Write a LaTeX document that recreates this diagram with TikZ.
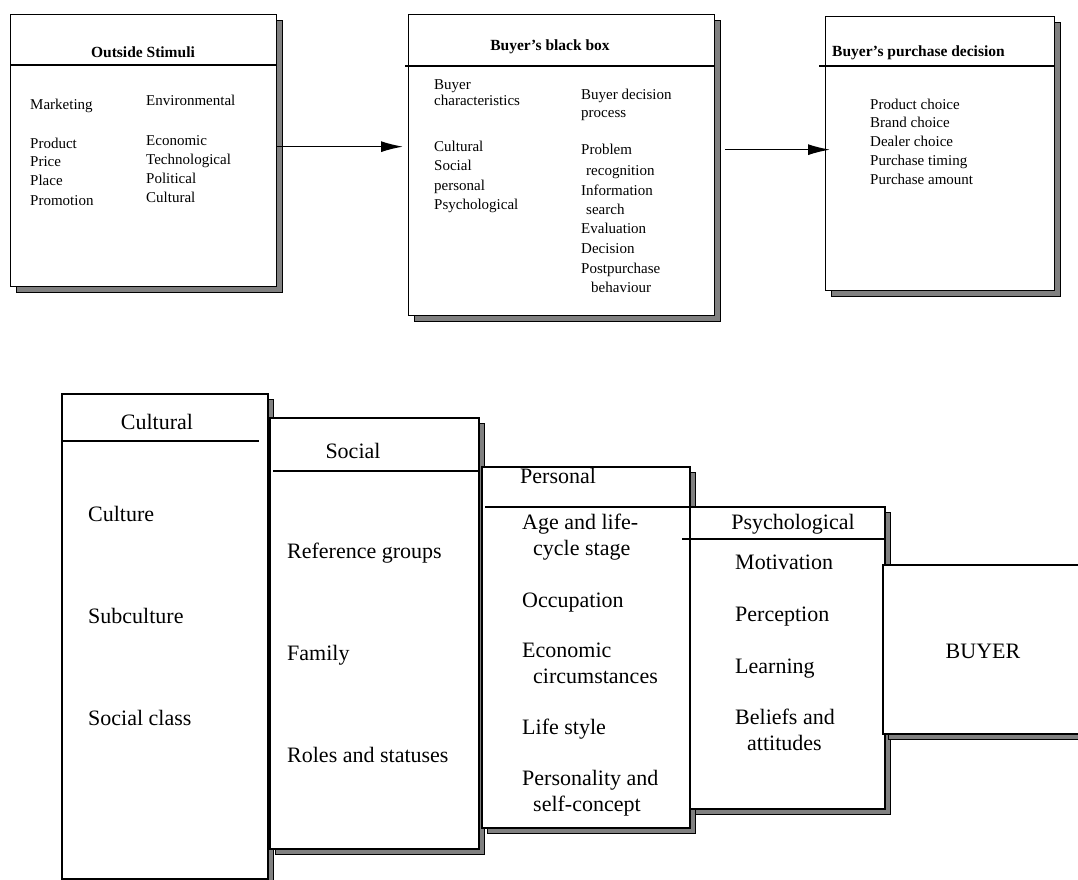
\documentclass[tikz,border=0pt]{standalone}
\usepackage{fontspec}
\setmainfont{Liberation Serif}
\usetikzlibrary{arrows.meta,shadows}
\begin{document}
\begin{tikzpicture}[x=1pt,y=-1pt,
  shd/.style={drop shadow={shadow xshift=6pt,shadow yshift=-6pt,fill=black!50,draw=black,line width=0.6pt,opacity=1}},
  topbox/.style={draw=black,line width=1.3pt,fill=white,inner sep=0pt,anchor=north west,shd},
  botbox/.style={draw=black,line width=1.5pt,fill=white,inner sep=0pt,anchor=north west,shd},
  hdr/.style={line width=1.3pt},
  small/.style={font=\fontsize{15}{18}\selectfont,inner sep=0pt,text height=0.68em,text depth=0.22em,anchor=west},
  smallb/.style={font=\fontsize{15.5}{18}\selectfont\bfseries,inner sep=0pt,text height=0.68em,text depth=0.22em},
  big/.style={font=\fontsize{22}{26}\selectfont,inner sep=0pt,text height=0.68em,text depth=0.22em,anchor=west},
  bigc/.style={font=\fontsize{22}{26}\selectfont,inner sep=0pt,text height=0.68em,text depth=0.22em},
  arr/.style={line width=1.3pt,-{Latex[length=22pt,width=11pt]}},
]
\useasboundingbox (0,0) rectangle (1078,880);
\clip (0,0) rectangle (1078,880);

% ---------------- top row ----------------
\node[topbox,minimum width=266pt,minimum height=272pt] (b1) at (10,14) {};
\draw[hdr] ([yshift=-51pt]b1.north west) -- ([yshift=-51pt]b1.north east);
\node[smallb] (t1) at (143,55) {Outside Stimuli};
\node[small] (mkt) at (30,107) {Marketing};
\node[small] (env) at (146,103) {Environmental};
\foreach \t/\y [count=\i] in {Product/146,Price/164,Place/183,Promotion/203}
  \node[small] (mk\i) at (30,\y) {\t};
\foreach \t/\y [count=\i] in {Economic/143,Technological/162,Political/181,Cultural/200}
  \node[small] (en\i) at (146,\y) {\t};

\node[topbox,minimum width=306pt,minimum height=301pt] (b2) at (408,14) {};
\draw[hdr] ([shift={(-3pt,-52pt)}]b2.north west) -- ([yshift=-52pt]b2.north east);
\node[smallb] (t2) at (550,48) {Buyer's black box};
\foreach \t/\y [count=\i] in {Buyer/87,characteristics/103,Cultural/149,Social/168,personal/188,Psychological/207}
  \node[small] (bc\i) at (434,\y) {\t};
\foreach \t/\x/\y [count=\i] in {Buyer decision/581/97,process/581/115,Problem/581/152,recognition/586/173,Information/581/193,search/586/212,Evaluation/581/231,Decision/581/251,Postpurchase/581/271,behaviour/591/290}
  \node[small] (bd\i) at (\x,\y) {\t};

\node[topbox,minimum width=229pt,minimum height=274pt] (b3) at (825,16) {};
\draw[hdr] ([shift={(-6pt,-50pt)}]b3.north west) -- ([yshift=-50pt]b3.north east);
\node[smallb,anchor=west] (t3) at (832,54) {Buyer's purchase decision};
\foreach \t/\y [count=\i] in {Product choice/107,Brand choice/125,Dealer choice/144,Purchase timing/163,Purchase amount/182}
  \node[small] (pd\i) at (870,\y) {\t};

\draw[arr,shorten >=5pt] ([yshift=4pt]b1.east) -- ([yshift=4pt]b1.east -| b2.west);
\draw[arr,shorten <=10pt,shorten >=-5pt] ([yshift=15.5pt]b2.east) -- ([yshift=15.5pt]b2.east -| b3.west);

% ---------------- bottom row ----------------
\node[botbox,minimum width=206pt,minimum height=485pt] (cu) at (61,393) {};
\draw[hdr] ([yshift=-48pt]cu.north west) -- ++(198pt,0);
\node[bigc] (cut) at (157,427) {Cultural};
\foreach \t/\y [count=\i] in {Culture/519,Subculture/621,Social class/723}
  \node[big] (cu\i) at (88,\y) {\t};

\node[botbox,minimum width=209pt,minimum height=431pt] (so) at (269,417) {};
\draw[hdr] ([shift={(4pt,-54pt)}]so.north west) -- ([yshift=-54pt]so.north east);
\node[bigc] (sot) at (353,456) {Social};
\foreach \t/\y [count=\i] in {Reference groups/556,Family/658,Roles and statuses/760}
  \node[big] (so\i) at (287,\y) {\t};

\node[botbox,minimum width=208pt,minimum height=361pt] (pe) at (481,466) {};
\draw[hdr] ([shift={(4pt,-41pt)}]pe.north west) -- ([yshift=-41pt]pe.north east);
\node[big] (pet) at (520,481) {Personal};
\foreach \t/\x/\y [count=\i] in {Age and life-/522/527,cycle stage/533/553,Occupation/522/605,Economic/522/655,circumstances/533/681,Life style/522/732,Personality and/522/783,self-concept/533/809}
  \node[big] (pe\i) at (\x,\y) {\t};

\node[botbox,minimum width=195pt,minimum height=302pt] (ps) at (689,506) {};
\draw[hdr] ([shift={(-7pt,-33pt)}]ps.north west) -- ([yshift=-33pt]ps.north east);
\node[bigc] (pst) at (793,527) {Psychological};
\foreach \t/\x/\y [count=\i] in {Motivation/735/567,Perception/735/619,Learning/735/671,Beliefs and/735/722,attitudes/747/748}
  \node[big] (ps\i) at (\x,\y) {\t};

\node[botbox,minimum width=206pt,minimum height=169pt] (bu) at (882,564) {};
\node[bigc] (but) at (983,656) {BUYER};
\end{tikzpicture}
\end{document}
